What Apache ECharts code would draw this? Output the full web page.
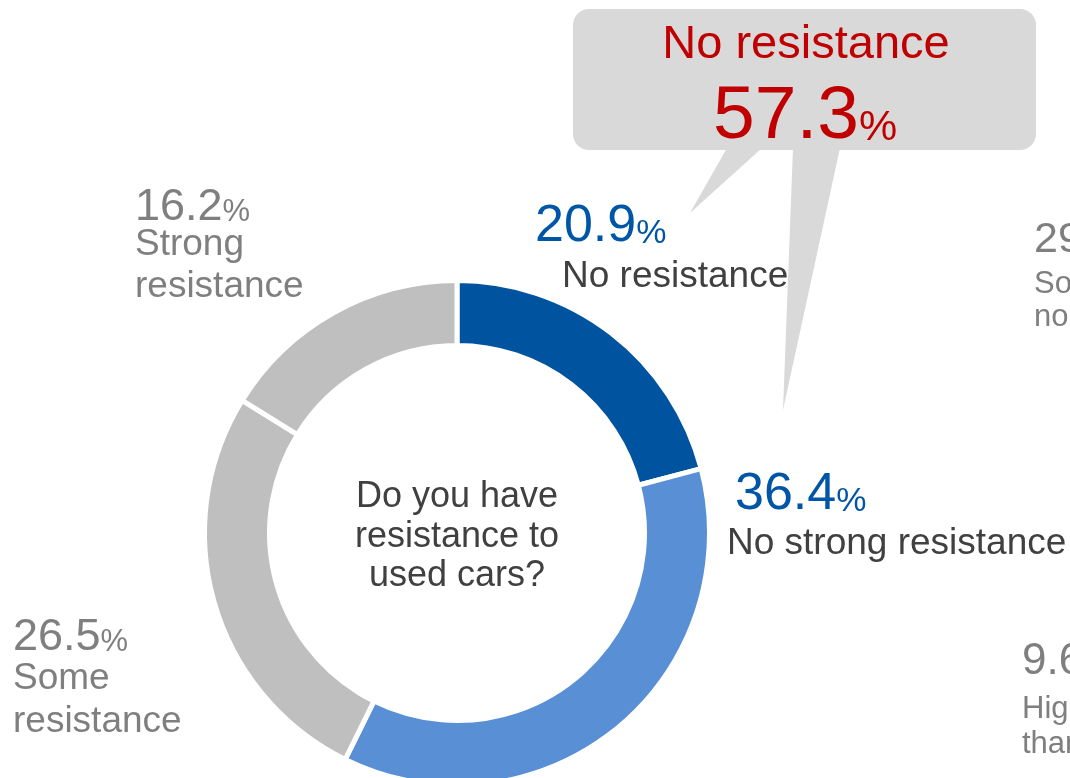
<!DOCTYPE html>
<html>
<head>
<meta charset="utf-8">
<script src="https://cdn.jsdelivr.net/npm/echarts@6/dist/echarts.min.js"></script>
<style>
  html, body { margin: 0; padding: 0; background: #ffffff; }
  #chart { width: 1070px; height: 778px; }
</style>
</head>
<body>
<div id="chart"></div>
<script>
// Survey answers: "Do you have resistance to used cars?"
const categories = ['No resistance', 'No strong resistance', 'Some resistance', 'Strong resistance'];
const shares = [20.9, 36.4, 26.5, 16.2];
const question = ['Do you have', 'resistance to', 'used cars?'];

// Neighbouring panel, only its left edge shows
const sideShares = [29.4, 9.6];
const sideNames = [['Somewhat', 'no preference'], ['Higher', 'than new cars']];

// Combined "no resistance" answer shown in the callout (first two slices)
const calloutTitle = 'No resistance';
const calloutShare = +(shares[0] + shares[1]).toFixed(1);

const FONT = '"Liberation Sans", Arial, sans-serif';
const SLICE_COLORS = ['#00539F', '#588FD5', '#BFBFBF', '#BFBFBF'];
const BLUE_TEXT = '#0056A6';
const GRAY_TEXT = '#7F7F7F';
const DARK_TEXT = '#404040';
const RED_TEXT = '#C00000';
const CALLOUT_FILL = '#D9D9D9';

// Measure text so the small "%" sits right after the number
const measureCtx = document.createElement('canvas').getContext('2d');
function textWidth(str, size) {
  measureCtx.font = size + 'px ' + FONT;
  return measureCtx.measureText(str).width;
}

// Place text by its alphabetic baseline (zrender draws with a 'middle' baseline)
function textAt(str, x, baseline, size, color, align) {
  return {
    type: 'text',
    silent: true,
    style: {
      text: str,
      x: x,
      y: baseline - 0.3465 * size,
      font: size + 'px ' + FONT,
      fill: color,
      align: align || 'left',
      verticalAlign: 'middle'
    }
  };
}

function percentLabel(value, x, baseline, numSize, pctSize, color) {
  const num = value.toFixed(1);
  return [
    textAt(num, x, baseline, numSize, color),
    textAt('%', x + textWidth(num, numSize), baseline, pctSize, color)
  ];
}

// Label placement for each slice
const labelPlacement = [
  { x: 535, y: 245, num: 52, pct: 34, color: BLUE_TEXT, nameX: 562, nameY: [290], nameSize: 37, nameColor: DARK_TEXT, wrap: false },
  { x: 735, y: 513, num: 52, pct: 34, color: BLUE_TEXT, nameX: 727, nameY: [557], nameSize: 37, nameColor: DARK_TEXT, wrap: false },
  { x: 13,  y: 653, num: 45, pct: 31, color: GRAY_TEXT, nameX: 13,  nameY: [692, 735], nameSize: 37, nameColor: GRAY_TEXT, wrap: true },
  { x: 135, y: 223, num: 45, pct: 31, color: GRAY_TEXT, nameX: 135, nameY: [258, 300], nameSize: 37, nameColor: GRAY_TEXT, wrap: true }
];

const sidePlacement = [
  { x: 1034, y: 255, num: 43, pct: 30, nameY: [295, 328], nameSize: 31 },
  { x: 1022, y: 677, num: 44, pct: 30, nameY: [720, 755], nameSize: 31 }
];

const graphics = [];

// Callout bubble with two pointers towards the blue slices
graphics.push({
  type: 'polygon', silent: true,
  shape: { points: [[727, 148], [762, 148], [690, 213]] },
  style: { fill: CALLOUT_FILL }
});
graphics.push({
  type: 'polygon', silent: true,
  shape: { points: [[793, 148], [840, 148], [783, 410]] },
  style: { fill: CALLOUT_FILL }
});
graphics.push({
  type: 'rect', silent: true,
  shape: { x: 573, y: 9, width: 463, height: 141, r: 16 },
  style: { fill: CALLOUT_FILL }
});
graphics.push(textAt(calloutTitle, 806, 61, 47, RED_TEXT, 'center'));
graphics.push(...percentLabel(calloutShare, 713, 143, 75, 43, RED_TEXT));

// Slice labels
categories.forEach((name, i) => {
  const p = labelPlacement[i];
  graphics.push(...percentLabel(shares[i], p.x, p.y, p.num, p.pct, p.color));
  let lines = [name];
  if (p.wrap) {
    const cut = name.indexOf(' ');
    lines = [name.slice(0, cut), name.slice(cut + 1)];
  }
  lines.forEach((line, k) => {
    graphics.push(textAt(line, p.nameX, p.nameY[k], p.nameSize, p.nameColor));
  });
});

// Question in the hole of the donut
const qBaselines = [510, 550, 589];
question.forEach((line, k) => {
  graphics.push(textAt(line, 457, qBaselines[k], 36, DARK_TEXT, 'center'));
});

// Neighbouring panel labels
sideShares.forEach((v, i) => {
  const p = sidePlacement[i];
  graphics.push(...percentLabel(v, p.x, p.y, p.num, p.pct, GRAY_TEXT));
  sideNames[i].forEach((line, k) => {
    graphics.push(textAt(line, p.x, p.nameY[k], p.nameSize, GRAY_TEXT));
  });
});

const chart = echarts.init(document.getElementById('chart'), null, { renderer: 'canvas' });
chart.setOption({
  backgroundColor: '#ffffff',
  animation: false,
  series: [{
    type: 'pie',
    center: [457, 533],
    radius: [187.5, 252.5],
    startAngle: 90,
    clockwise: true,
    silent: true,
    avoidLabelOverlap: false,
    label: { show: false },
    labelLine: { show: false },
    itemStyle: { borderColor: '#ffffff', borderWidth: 5 },
    data: categories.map((name, i) => ({
      name: name,
      value: shares[i],
      itemStyle: { color: SLICE_COLORS[i] }
    }))
  }],
  graphic: graphics
});
</script>
</body>
</html>
